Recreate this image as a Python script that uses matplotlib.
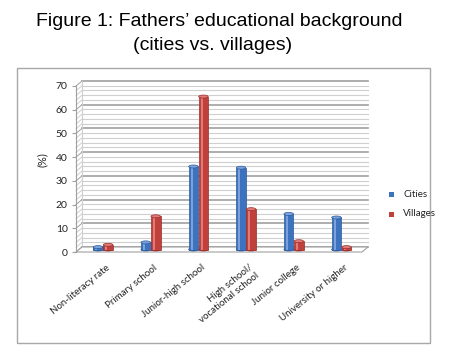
import numpy as np
import matplotlib
matplotlib.use("Agg")
import matplotlib.pyplot as plt
from matplotlib.patches import Rectangle, Ellipse, Polygon

categories = ["Non-literacy rate", "Primary school", "Junior-high school",
              "High school/\nvocational school", "Junior college", "University or higher"]
cities = [1.0, 3.0, 35.0, 34.5, 15.0, 13.5]
villages = [2.0, 14.0, 64.5, 17.0, 3.5, 1.0]
yticks = [0, 10, 20, 30, 40, 50, 60, 70]

W, H = 450, 358
fig = plt.figure(figsize=(W / 100, H / 100), dpi=100)

# front plane of the 3d box, in pixels
fx0, fx1, fy0, fy1 = 76, 362, 252, 86
ax = fig.add_axes([fx0 / W, (H - fy0) / H, (fx1 - fx0) / W, (fy0 - fy1) / H])
ax.set_xlim(-0.5, 5.5)
ax.set_ylim(0, 70)

# depth offset (6px right, 5px up) in data units
DX = 6 / ((fx1 - fx0) / 6)
DY = 5 / ((fy0 - fy1) / 70)

grid_major = "#a0a0a0"
grid_minor = "#cfcfcf"

# back wall grid + left wall slants
for v in np.arange(0, 71, 2):
    major = v % 10 == 0
    c = grid_major if major else grid_minor
    lw = 1.2 if major else 0.8
    ax.plot([-0.5 + DX, 5.5 + DX], [v + DY, v + DY], color=c, lw=lw, zorder=1, clip_on=False)
    ax.plot([-0.5, -0.5 + DX], [v, v + DY], color=c, lw=0.7, zorder=1, clip_on=False)
ax.plot([-0.5 + DX, -0.5 + DX], [DY, 70 + DY], color=grid_minor, lw=0.8, zorder=1, clip_on=False)

# floor
floor = Polygon([(-0.5, 0), (5.5, 0), (5.5 + DX, DY), (-0.5 + DX, DY)], closed=True,
                facecolor="white", edgecolor="#a0a0a0", lw=0.8, zorder=2, clip_on=False)
ax.add_patch(floor)

x = np.arange(len(categories))
w = 0.2
ell_h = 3 / ((fy0 - fy1) / 70)
blue, blue_l, blue_d = "#3d72bf", "#7aa3db", "#2c5a9c"
red, red_l, red_d = "#c0403c", "#e07a76", "#9a2e2b"

def cylinder(xs, vals, col, light, dark):
    xs = xs + DX / 2
    bot = DY / 2
    ax.bar(xs, vals, width=w, bottom=bot, color=col, edgecolor=dark, lw=0.5, zorder=3)
    ax.bar(xs - w * 0.18, vals, width=w * 0.22, bottom=bot, color=light, lw=0, zorder=3.1)
    for xi, v in zip(xs, vals):
        ax.add_patch(Ellipse((xi, bot), w, ell_h, facecolor=col, edgecolor=dark, lw=0.5, zorder=2.9))
        ax.add_patch(Ellipse((xi, bot + v), w, ell_h, facecolor=light, edgecolor=dark, lw=0.5, zorder=3.2))

cylinder(x - 0.1, cities, blue, blue_l, blue_d)
cylinder(x + 0.11, villages, red, red_l, red_d)

for s in ["top", "right", "bottom"]:
    ax.spines[s].set_visible(False)
ax.spines["left"].set_color("#a0a0a0")
ax.spines["left"].set_linewidth(0.8)

ax.set_yticks(yticks)
ax.tick_params(axis="y", length=3, color="#a0a0a0", labelsize=7.5, pad=3, labelcolor="#222222")
ax.set_xticks(x + 0.12)
ax.set_xticklabels(categories, rotation=39, ha="right", rotation_mode="anchor",
                   fontsize=7, family="Lato", color="#222222")
ax.tick_params(axis="x", length=0, pad=8)
for lab in ax.get_yticklabels():
    lab.set_family("Lato")

fig.text(42 / W, 1 - 160 / H, "(%)", rotation=90, ha="center", va="center",
         fontsize=8, family="Lato", color="#222222")

# legend
for i, (name, col) in enumerate([("Cities", blue), ("Villages", red)]):
    yy = 1 - (195 + 19 * i) / H
    fig.patches.append(Rectangle((389 / W, yy - 2.5 / H), 5 / W, 5 / H, transform=fig.transFigure,
                                 facecolor=col, edgecolor="none"))
    fig.text(403 / W, yy, name, ha="left", va="center", fontsize=7, family="Lato", color="#222222")

# chart frame
fig.patches.append(Rectangle((17 / W, 1 - 343 / H), 413 / W, 275 / H, transform=fig.transFigure,
                             facecolor="none", edgecolor="#a8a8a8", lw=1))

fig.text(219 / W, 1 - 22 / H, "Figure 1: Fathers\u2019 educational background", ha="center",
         va="center", fontsize=14, family="Liberation Sans")
fig.text(213 / W, 1 - 46 / H, "(cities vs. villages)", ha="center", va="center",
         fontsize=14, family="Liberation Sans")

fig.savefig("out.png", dpi=100)
